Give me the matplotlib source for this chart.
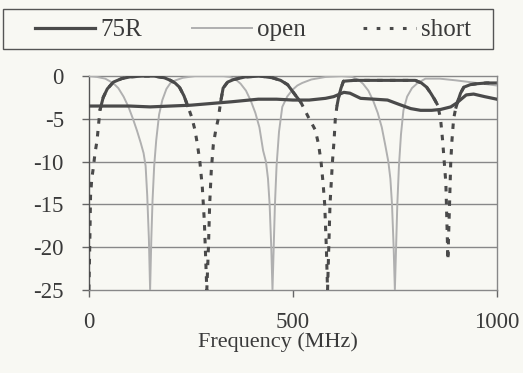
import numpy as np
import matplotlib
matplotlib.use("Agg")
import matplotlib.pyplot as plt
from matplotlib.lines import Line2D
from matplotlib.patches import Rectangle

# return loss readings (dB) vs frequency (MHz)
r75_f = [0, 50, 100, 150, 200, 250, 300, 350, 415, 460, 500, 540, 580, 600, 615, 625,
         640, 666, 700, 732, 760, 789, 813, 840, 862, 887, 900, 910, 925, 943, 970, 1000]
r75_db = [-3.5, -3.5, -3.5, -3.6, -3.5, -3.4, -3.2, -3.0, -2.7, -2.7, -2.8, -2.8, -2.6, -2.4, -2.1, -1.9,
          -2.0, -2.6, -2.7, -2.8, -3.3, -3.8, -4.0, -4.0, -3.9, -3.6, -3.2, -2.8, -2.2, -2.1, -2.4, -2.7]

open_f = [0, 20, 40, 59, 72, 85, 97, 108, 118, 127, 134, 139, 143, 147, 150, 153, 156, 160, 165, 172,
          180, 190, 200, 212, 230, 260, 300, 330, 345, 360, 372, 385, 397, 408, 418, 427, 434, 439, 443, 447,
          450, 453, 456, 460, 466, 474, 486, 499, 511, 523, 545, 580, 620, 645, 660, 672, 685, 697, 708, 718,
          727, 734, 739, 743, 747, 750, 753, 756, 760, 765, 771, 780, 792, 806, 825, 860, 900, 950, 1000]
open_db = [0, -0.1, -0.3, -0.8, -1.4, -2.4, -3.6, -5, -6.4, -7.8, -9, -10.5, -14, -19, -25, -19, -14.5, -10.5, -7.5, -4.5,
           -2.8, -1.5, -0.8, -0.5, -0.2, 0, 0, 0, -0.1, -0.4, -0.9, -1.7, -2.9, -4.3, -6, -8.7, -10, -12, -15, -20,
           -25, -20, -15, -10.5, -6.5, -3.6, -2.4, -1.6, -1.1, -0.8, -0.4, -0.1, 0, -0.1, -0.4, -0.9, -1.7, -2.9, -4.3, -6,
           -8.2, -10, -12, -15, -20, -25, -20, -15, -10.5, -6.8, -4, -2.4, -1.4, -0.8, -0.3, -0.3, -0.5, -0.8, -1.1]

short_f = [0, 2, 4, 7, 10, 15, 20, 23, 27, 35, 45, 60, 80, 100, 130, 160, 185, 200, 211, 222,
           233, 243, 252, 260, 266, 272, 278, 283, 289, 293, 296, 300, 305, 311, 317, 323, 329, 340, 355, 383,
           420, 450, 470, 487, 501, 520, 538, 555, 563, 569, 574, 578, 582, 585, 588, 591, 594, 597, 601, 604,
           608, 612, 618, 624, 650, 700, 760, 800, 815, 828, 838, 847, 855, 862, 867, 871, 875, 880, 884, 887,
           890, 894, 899, 904, 911, 919, 935, 950, 975, 1000]
short_db = [-25, -20, -14, -12, -11, -9, -7.5, -6, -4, -2.5, -1.5, -0.7, -0.3, -0.1, 0, 0, -0.2, -0.5, -0.8, -1.3,
            -2.3, -3.6, -4.8, -6.3, -8, -10, -13, -17, -25, -20, -15, -11, -8, -6.3, -5, -3, -1.4, -0.7, -0.4, -0.1,
            0, -0.2, -0.5, -1, -1.9, -3.1, -4.8, -6.3, -8, -10, -12.5, -15, -20, -25, -20, -15, -12.5, -10, -7.5, -5,
            -3.5, -2.5, -1.4, -0.6, -0.5, -0.5, -0.5, -0.5, -0.8, -1.3, -2, -2.7, -3.4, -5, -7.5, -10, -12.5, -21.5, -15, -10,
            -7.5, -5, -3.8, -3, -2, -1.3, -1, -0.9, -0.8, -0.8]

bg = "#f8f8f3"
dark = "#4a4a4a"
light = "#b0b0b0"
txt = "#3a3a3a"

plt.rcParams["font.family"] = ["Liberation Serif", "DejaVu Serif"]
plt.rcParams["axes.unicode_minus"] = False

fig = plt.figure(figsize=(5.23, 3.73), dpi=100, facecolor=bg)
ax = fig.add_axes([0.170, 0.2225, 0.780, 0.5735], facecolor=bg)

for y in [-5, -10, -15, -20]:
    ax.axhline(y, color="#888888", lw=1, zorder=1)

ax.plot(open_f, open_db, color=light, lw=1.4, zorder=3)
ax.plot(r75_f, r75_db, color=dark, lw=2.3, zorder=4)

sf = np.array(short_f)
sd = np.array(short_db, dtype=float)
ax.plot(sf, sd, color=dark, lw=2.2, linestyle=(0, (1.8, 2.4)), zorder=5)
# near the top the dense dashes merge into a solid line
top = np.where(sd >= -4.5, sd, np.nan)
ax.plot(sf, top, color=dark, lw=2.2, zorder=5, solid_capstyle="butt")

ax.set_xlim(0, 1000)
ax.set_ylim(-25, 0)
ax.set_xticks([0, 500, 1000])
ax.set_yticks([0, -5, -10, -15, -20, -25])
ax.tick_params(axis="both", labelsize=16.5, colors="#666666", labelcolor=txt, length=5, width=1)
ax.tick_params(axis="x", pad=11)
ax.tick_params(axis="y", pad=13)
for s in ax.spines.values():
    s.set_color("#888888")
    s.set_linewidth(1)
ax.spines["left"].set_color("#555555")
ax.set_xlabel("Frequency (MHz)", fontsize=16, color=txt, va="top")
ax.xaxis.set_label_coords(0.463, -0.196)

# legend box spanning the top of the figure
fig.patches.append(Rectangle((3 / 523, 1 - 49 / 373), 490 / 523, 40 / 373,
                             transform=fig.transFigure, fill=False,
                             edgecolor="#555555", lw=1))
handles = [Line2D([], [], color=dark, lw=2.3),
           Line2D([], [], color=light, lw=1.4),
           Line2D([], [], color=dark, lw=2.2, linestyle=(2, (1.2, 3.1)))]
fig.legend(handles, ["75R", "open", "short"], ncol=3, loc="center left",
           bbox_to_anchor=(35 / 523, 1 - 30 / 373),
           fontsize=18, handlelength=2.4, handletextpad=0.2, columnspacing=2.0,
           frameon=False, borderaxespad=0, borderpad=0, labelcolor=txt)

fig.savefig("out.png", dpi=100, facecolor=bg)
